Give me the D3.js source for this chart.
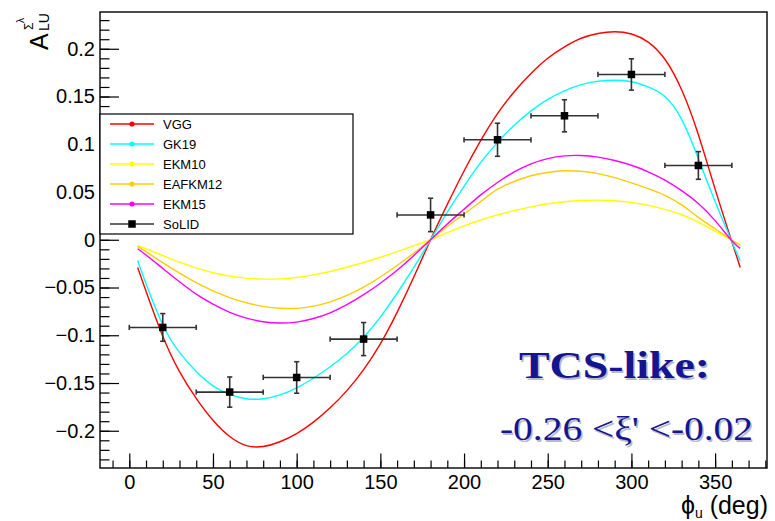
<!DOCTYPE html>
<html>
<head>
<meta charset="utf-8">
<script src="https://cdn.jsdelivr.net/npm/d3@7"></script>
<style>
  html, body { margin: 0; padding: 0; background: #fff; }
  svg { display: block; }
</style>
</head>
<body>
<svg id="chart" width="775" height="521"></svg>
<script>
// Azimuthal angle grid (deg) on which the model curves are tabulated
const phiGrid = [5, 10, 20, 30, 40, 50, 60, 70, 80, 90, 100, 110, 120, 130, 140, 150, 160, 170, 180,
                 190, 200, 210, 220, 230, 240, 250, 260, 270, 280, 290, 300, 310, 320, 330, 340, 350, 360, 365];

// Model predictions of A_LU
const vgg = [-0.029, -0.054, -0.101, -0.138, -0.166, -0.189, -0.206, -0.2155, -0.2165, -0.2115, -0.203, -0.191, -0.176, -0.158, -0.136, -0.109, -0.076, -0.039, 0,
             0.037, 0.072, 0.104, 0.132, 0.155, 0.174, 0.190, 0.202, 0.211, 0.216, 0.2178, 0.2155, 0.207, 0.189, 0.157, 0.110, 0.053, -0.002, -0.029];
const gk19 = [-0.022, -0.046, -0.089, -0.118, -0.138, -0.153, -0.162, -0.1665, -0.1665, -0.1625, -0.155, -0.145, -0.133, -0.119, -0.102, -0.081, -0.056, -0.029, 0,
              0.029, 0.056, 0.081, 0.102, 0.120, 0.135, 0.147, 0.156, 0.1625, 0.166, 0.167, 0.1655, 0.160, 0.150, 0.126, 0.085, 0.040, -0.002, -0.022];
const ekm10 = [-0.006, -0.0095, -0.0165, -0.0235, -0.0295, -0.0345, -0.038, -0.0402, -0.0412, -0.041, -0.0395, -0.0368, -0.0332, -0.0288, -0.0238, -0.0183, -0.0124, -0.0062, 0,
               0.0075, 0.0145, 0.0207, 0.026, 0.0305, 0.0345, 0.0377, 0.0398, 0.0411, 0.0415, 0.0408, 0.039, 0.036, 0.0318, 0.0262, 0.0185, 0.009, -0.0005, -0.0052];
const eafkm12 = [-0.007, -0.0125, -0.024, -0.035, -0.045, -0.0535, -0.0605, -0.066, -0.0697, -0.0717, -0.0718, -0.0695, -0.065, -0.0582, -0.0495, -0.039, -0.027, -0.014, 0,
                 0.014, 0.027, 0.040, 0.053, 0.061, 0.067, 0.0705, 0.0722, 0.0717, 0.0693, 0.065, 0.0595, 0.0535, 0.0465, 0.0365, 0.0235, 0.0115, -0.0005, -0.0055];
const ekm15 = [-0.0094, -0.016, -0.030, -0.044, -0.057, -0.0675, -0.076, -0.082, -0.0858, -0.0872, -0.0862, -0.0825, -0.0765, -0.068, -0.0575, -0.0455, -0.032, -0.0165, 0,
               0.0165, 0.032, 0.047, 0.060, 0.071, 0.0795, 0.085, 0.0878, 0.0882, 0.0865, 0.083, 0.078, 0.0712, 0.0625, 0.0515, 0.038, 0.020, -0.001, -0.009];

// SoLID projected points
const solidPhi = [20, 60, 100, 140, 180, 220, 260, 300, 340];
const solidPhiErr = [20, 20, 20, 20, 20, 20, 20, 20, 20];
const solidA = [-0.0918, -0.1595, -0.1442, -0.104, 0.026, 0.1047, 0.1298, 0.1731, 0.0778];
const solidAErr = [0.0145, 0.0158, 0.0165, 0.0173, 0.0175, 0.0173, 0.0168, 0.0164, 0.0145];

// Axis ticks
const xTicks = [0, 50, 100, 150, 200, 250, 300, 350];
const xTickLabels = ["0", "50", "100", "150", "200", "250", "300", "350"];
const yTicks = [-0.2, -0.15, -0.1, -0.05, 0, 0.05, 0.1, 0.15, 0.2];
const yTickLabels = ["\u22120.2", "\u22120.15", "\u22120.1", "\u22120.05", "0", "0.05", "0.1", "0.15", "0.2"];

const seriesNames = ["VGG", "GK19", "EKM10", "EAFKM12", "EKM15", "SoLID"];
const seriesColors = ["#ff0000", "#00ffff", "#ffff00", "#ffcc00", "#ff00ff", "#000000"];
const seriesValues = [vgg, gk19, ekm10, eafkm12, ekm15];

const svg = d3.select("#chart");
const W = 775, H = 521;
const frame = { left: 100, right: 767, top: 12, bottom: 468 };

svg.append("rect").attr("width", W).attr("height", H).attr("fill", "#fff");

const x = d3.scaleLinear().domain([-17.5, 381]).range([frame.left, frame.right]);
const y = d3.scaleLinear().domain([-0.239, 0.2385]).range([frame.bottom, frame.top]);

const font = "'Liberation Sans', Arial, Helvetica, sans-serif";

// clip for curves
svg.append("defs").append("clipPath").attr("id", "plotclip")
  .append("rect").attr("x", frame.left).attr("y", frame.top)
  .attr("width", frame.right - frame.left).attr("height", frame.bottom - frame.top);

// model curves
const line = d3.line()
  .x((d, i) => x(phiGrid[i]))
  .y(d => y(d))
  .curve(d3.curveNatural);

const curves = svg.append("g").attr("clip-path", "url(#plotclip)");
seriesValues.forEach((vals, k) => {
  curves.append("path")
    .attr("d", line(vals))
    .attr("fill", "none")
    .attr("stroke", seriesColors[k])
    .attr("stroke-width", 1.4);
});

// Axes: ticks point into the frame
const xMinor = d3.range(-10, 381, 10);
svg.append("g").attr("transform", `translate(0,${frame.bottom})`)
  .call(d3.axisBottom(x).tickValues(xMinor).tickSize(-7.5).tickFormat(""))
  .call(g => g.select(".domain").remove())
  .call(g => g.selectAll("line").attr("stroke", "#000").attr("stroke-width", 1.2));
svg.append("g").attr("transform", `translate(0,${frame.bottom})`)
  .call(d3.axisBottom(x).tickValues(xTicks).tickSize(-14.5).tickPadding(6.5)
        .tickFormat((d, i) => xTickLabels[i]))
  .call(g => g.select(".domain").remove())
  .call(g => g.selectAll("line").attr("stroke", "#000").attr("stroke-width", 1.2))
  .call(g => g.selectAll("text").attr("font-family", font).attr("font-size", 20).attr("fill", "#000"));

const yMinor = d3.range(-23, 24, 1).map(v => v / 100);
svg.append("g").attr("transform", `translate(${frame.left},0)`)
  .call(d3.axisLeft(y).tickValues(yMinor).tickSize(-9.5).tickFormat(""))
  .call(g => g.select(".domain").remove())
  .call(g => g.selectAll("line").attr("stroke", "#000").attr("stroke-width", 1.2));
svg.append("g").attr("transform", `translate(${frame.left},0)`)
  .call(d3.axisLeft(y).tickValues(yTicks).tickSize(-19).tickPadding(5)
        .tickFormat((d, i) => yTickLabels[i]))
  .call(g => g.select(".domain").remove())
  .call(g => g.selectAll("line").attr("stroke", "#000").attr("stroke-width", 1.2))
  .call(g => g.selectAll("text").attr("font-family", font).attr("font-size", 20).attr("fill", "#000"));

// frame
svg.append("rect")
  .attr("x", frame.left).attr("y", frame.top)
  .attr("width", frame.right - frame.left).attr("height", frame.bottom - frame.top)
  .attr("fill", "none").attr("stroke", "#000").attr("stroke-width", 1.4);

// SoLID points with error bars
const pts = svg.append("g");
const ebColor = "#333";
const cap = 2.6;
solidPhi.forEach((p, i) => {
  const cx = x(p), cy = y(solidA[i]);
  const x0 = x(p - solidPhiErr[i]), x1 = x(p + solidPhiErr[i]);
  const y0 = y(solidA[i] - solidAErr[i]), y1 = y(solidA[i] + solidAErr[i]);
  const g = pts.append("g").attr("stroke", ebColor).attr("stroke-width", 1.6);
  g.append("line").attr("x1", x0).attr("x2", x1).attr("y1", cy).attr("y2", cy);
  g.append("line").attr("x1", cx).attr("x2", cx).attr("y1", y0).attr("y2", y1);
  g.append("line").attr("x1", x0).attr("x2", x0).attr("y1", cy - cap).attr("y2", cy + cap);
  g.append("line").attr("x1", x1).attr("x2", x1).attr("y1", cy - cap).attr("y2", cy + cap);
  g.append("line").attr("x1", cx - cap).attr("x2", cx + cap).attr("y1", y0).attr("y2", y0);
  g.append("line").attr("x1", cx - cap).attr("x2", cx + cap).attr("y1", y1).attr("y2", y1);
  pts.append("rect").attr("x", cx - 3.75).attr("y", cy - 3.75).attr("width", 7.5).attr("height", 7.5)
    .attr("fill", "#000");
});

// legend
const leg = svg.append("g");
leg.append("rect").attr("x", 100).attr("y", 114).attr("width", 253).attr("height", 120)
  .attr("fill", "#fff").attr("stroke", "#000").attr("stroke-width", 1.2);
seriesNames.forEach((name, i) => {
  const ly = 124 + i * 20;
  const col = seriesColors[i];
  const isData = i === seriesNames.length - 1;
  leg.append("line").attr("x1", 110).attr("x2", 154).attr("y1", ly).attr("y2", ly)
    .attr("stroke", isData ? ebColor : col).attr("stroke-width", isData ? 1.5 : 1.3);
  if (isData) {
    leg.append("rect").attr("x", 132 - 3.75).attr("y", ly - 3.75).attr("width", 7.5).attr("height", 7.5).attr("fill", "#000");
  } else {
    leg.append("circle").attr("cx", 132).attr("cy", ly).attr("r", 2.6).attr("fill", col);
  }
  leg.append("text").attr("x", 163).attr("y", ly).attr("dy", "0.36em")
    .attr("font-family", font).attr("font-size", 13).attr("fill", "#000").text(name);
});

// y-axis title: A with subscript LU and superscript Σλ
const yt = svg.append("g").attr("transform", "translate(48,51) rotate(-90)")
  .attr("font-family", font).attr("fill", "#000");
yt.append("text").attr("x", 1).attr("y", 0).attr("font-size", 25).text("A");
yt.append("text").attr("x", 20).attr("y", 1).attr("font-size", 14).text("LU");
yt.append("text").attr("x", 21).attr("y", -15).attr("font-size", 12).text("\u03A3");
yt.append("text").attr("x", 28).attr("y", -24).attr("font-size", 10).text("\u03BB");

// x-axis title: φ_u (deg)
const xt = svg.append("text").attr("x", 768).attr("y", 514).attr("text-anchor", "end")
  .attr("font-family", font).attr("fill", "#000").attr("font-size", 25);
xt.append("tspan").text("\u03D5");
xt.append("tspan").attr("font-size", 14).attr("dy", 4).text("u");
xt.append("tspan").attr("dy", -4).text(" (deg)");

// annotation
const serif = "'Liberation Serif', 'Times New Roman', Times, serif";
const annColor = "#15158f";
[[1.5, "#b8b8c8"], [0, annColor]].forEach(([off, col]) => {
  svg.append("text").attr("x", 519 + off).attr("y", 378 + off)
    .attr("font-family", serif).attr("font-weight", "bold").attr("font-size", 38)
    .attr("fill", col).attr("textLength", 191).attr("lengthAdjust", "spacingAndGlyphs")
    .text("TCS-like:");
  svg.append("text").attr("x", 500 + off).attr("y", 440 + off)
    .attr("font-family", serif).attr("font-size", 34)
    .attr("fill", col).attr("textLength", 253).attr("lengthAdjust", "spacingAndGlyphs")
    .text("-0.26 <\u03BE' <-0.02");
});
</script>
</body>
</html>
